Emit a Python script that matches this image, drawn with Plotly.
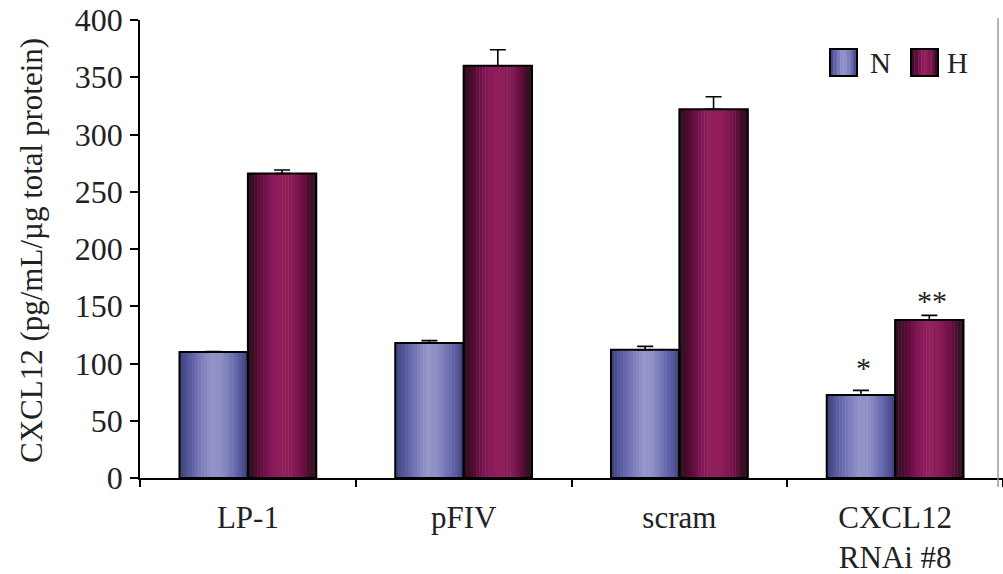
import plotly.graph_objects as go

# ---------------- data ----------------
categories = ["LP-1", "pFIV", "scram", "CXCL12<br>RNAi #8"]
n_values = [110, 118, 112, 72.5]
n_errors = [0.5, 2, 3, 4]
h_values = [266, 360, 322, 138]
h_errors = [3, 14, 11, 4]
n_marks = ["", "", "", "*"]
h_marks = ["", "", "", "**"]
y_ticks = [0, 50, 100, 150, 200, 250, 300, 350, 400]
series_names = ["N", "H"]
y_title = "CXCL12 (pg/mL/µg total protein)"

# ---------------- style ----------------
W, H = 1003, 574
ML, MR, MT, MB = 140, 0, 20, 96
FONT = "Liberation Serif, Times New Roman, serif"
BW = 0.317          # bar width in category units
NS = 22             # gradient stripes per bar

N_STOPS = [(0.0, (60, 62, 112)), (0.10, (78, 83, 152)), (0.30, (119, 120, 184)),
           (0.47, (148, 148, 200)), (0.62, (141, 142, 196)), (0.82, (100, 103, 172)),
           (0.93, (77, 80, 144)), (1.0, (58, 60, 108))]
H_STOPS = [(0.0, (43, 18, 32)), (0.08, (61, 13, 38)), (0.17, (92, 11, 56)),
           (0.35, (133, 25, 90)), (0.5, (146, 31, 92)), (0.65, (138, 28, 88)),
           (0.82, (106, 15, 66)), (0.92, (61, 13, 38)), (1.0, (43, 18, 32))]


def grad(stops, f):
    for (a, ca), (b, cb) in zip(stops[:-1], stops[1:]):
        if a <= f <= b:
            t = (f - a) / (b - a)
            c = [round(ca[k] + (cb[k] - ca[k]) * t) for k in range(3)]
            return "rgb(%d,%d,%d)" % tuple(c)
    return "rgb(%d,%d,%d)" % stops[-1][1]


fig = go.Figure()

sw = BW / NS
for values, stops, base in [(n_values, N_STOPS, -BW), (h_values, H_STOPS, 0.0)]:
    for i in range(NS):
        fig.add_trace(go.Bar(
            x=categories, y=values, width=sw * 1.15, offset=base + i * sw,
            marker=dict(color=grad(stops, (i + 0.5) / NS), line=dict(width=0)),
            showlegend=False, hoverinfo="skip"))

for name, values, errs, base in [("N", n_values, n_errors, -BW), ("H", h_values, h_errors, 0.0)]:
    fig.add_trace(go.Bar(
        x=categories, y=values, width=BW, offset=base, name=name,
        marker=dict(color="rgba(0,0,0,0)", line=dict(color="black", width=2)),
        error_y=dict(type="data", array=errs, arrayminus=[0] * len(errs),
                     symmetric=False, color="black", thickness=1.6, width=8),
        showlegend=False))

# significance marks
half_bar_px = BW * (W - ML - MR) / 4 / 2
annotations = []
for cat, v, e, m in zip(categories, n_values, n_errors, n_marks):
    if m:
        annotations.append(dict(x=cat, y=v + e, xref="x", yref="y", text=m, showarrow=False,
                                xshift=-half_bar_px + 3, yshift=23, yanchor="middle",
                                font=dict(family=FONT, size=30, color="#222")))
for cat, v, e, m in zip(categories, h_values, h_errors, h_marks):
    if m:
        annotations.append(dict(x=cat, y=v + e, xref="x", yref="y", text=m, showarrow=False,
                                xshift=half_bar_px + 3, yshift=15, yanchor="middle",
                                font=dict(family=FONT, size=30, color="#222")))


def px_x(p):
    return (p - ML) / (W - ML - MR)


def px_y(p):
    return (H - MB - p) / (H - MT - MB)


# y-axis title as rotated annotation
annotations.append(dict(x=px_x(31), y=px_y(251), xref="paper", yref="paper", text=y_title,
                        textangle=-90, showarrow=False, xanchor="center", yanchor="middle",
                        font=dict(family=FONT, size=31, color="#222")))

# custom legend (gradient swatches + labels)
shapes = []
legend_items = [(series_names[0], N_STOPS, 830, 880), (series_names[1], H_STOPS, 911, 957)]
LS = 8
for name, stops, x0, tx in legend_items:
    w = 27 / LS
    for i in range(LS):
        shapes.append(dict(type="rect", xref="paper", yref="paper",
                           x0=px_x(x0 + i * w), x1=px_x(x0 + (i + 1) * w + 0.4),
                           y0=px_y(76), y1=px_y(49),
                           fillcolor=grad(stops, (i + 0.5) / LS), line=dict(width=0)))
    shapes.append(dict(type="rect", xref="paper", yref="paper",
                       x0=px_x(x0), x1=px_x(x0 + 27), y0=px_y(76), y1=px_y(49),
                       line=dict(color="black", width=2)))
    annotations.append(dict(x=px_x(tx), y=px_y(63), xref="paper", yref="paper", text=name,
                            showarrow=False, xanchor="center", yanchor="middle",
                            font=dict(family=FONT, size=29, color="#222")))

# faint right border line
shapes.append(dict(type="line", xref="paper", yref="paper", x0=px_x(998), x1=px_x(998),
                   y0=px_y(487), y1=px_y(18), line=dict(color="#9a9a9a", width=1.5)))

fig.update_layout(
    width=W, height=H, margin=dict(l=ML, r=MR, t=MT, b=MB, pad=0),
    barmode="overlay", plot_bgcolor="white", paper_bgcolor="white",
    font=dict(family=FONT, size=30, color="#222"),
    annotations=annotations, shapes=shapes, showlegend=False,
    xaxis=dict(type="category", categoryorder="array", categoryarray=categories,
               showline=True, linecolor="black", linewidth=1.5,
               ticks="outside", tickson="boundaries", ticklen=7, tickcolor="black", tickwidth=1.5,
               ticklabelstandoff=11,
               showgrid=False, zeroline=False, tickfont=dict(family=FONT, size=31, color="#222"),
               fixedrange=True),
    yaxis=dict(range=[0, 400], tickvals=y_ticks, ticktext=[str(t) for t in y_ticks],
               showline=True, linecolor="black", linewidth=1.5,
               ticks="outside", ticklen=8, tickcolor="black", tickwidth=1.5,
               ticklabelstandoff=1,
               showgrid=False, zeroline=False, tickfont=dict(family=FONT, size=32, color="#222"),
               fixedrange=True),
)

fig.write_html("out.html")
